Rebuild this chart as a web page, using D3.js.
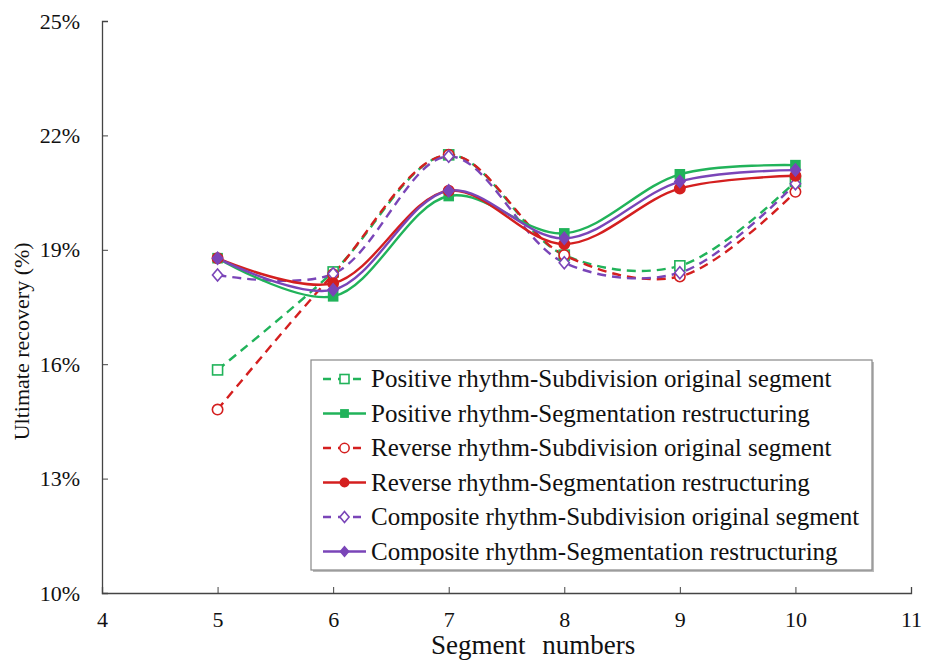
<!DOCTYPE html>
<html>
<head>
<meta charset="utf-8">
<script src="https://cdn.jsdelivr.net/npm/d3@7"></script>
<style>
  body { margin: 0; background: #fff; }
  text { font-family: "Liberation Serif", "Times New Roman", serif; fill: #111; }
</style>
</head>
<body>
<svg id="chart" width="935" height="661"></svg>
<script>
// segment numbers on the x axis
const segments = [5, 6, 7, 8, 9, 10];

// ultimate recovery (%)
const posSubdivision   = [15.85, 18.42, 21.49, 18.86, 18.58, 20.79];
const posSegmentation  = [18.78, 17.78, 20.41, 19.43, 20.98, 21.22];
const revSubdivision   = [14.81, 18.36, 21.49, 18.86, 18.30, 20.52];
const revSegmentation  = [18.78, 18.12, 20.55, 19.15, 20.61, 20.94];
const compSubdivision  = [18.34, 18.37, 21.45, 18.66, 18.40, 20.73];
const compSegmentation = [18.78, 17.95, 20.55, 19.30, 20.79, 21.09];

const seriesNames = [
  'Positive rhythm-Subdivision original segment',
  'Positive rhythm-Segmentation restructuring',
  'Reverse rhythm-Subdivision original segment',
  'Reverse rhythm-Segmentation restructuring',
  'Composite rhythm-Subdivision original segment',
  'Composite rhythm-Segmentation restructuring'
];

const xTicks = [4, 5, 6, 7, 8, 9, 10, 11];
const yTicks = [10, 13, 16, 19, 22, 25];

const green = '#21b35a', red = '#d41f1f', purple = '#7a45b8';

const series = [
  {name: seriesNames[0], values: posSubdivision,   color: green,  dashed: true,  shape: 'square'},
  {name: seriesNames[1], values: posSegmentation,  color: green,  dashed: false, shape: 'square'},
  {name: seriesNames[2], values: revSubdivision,   color: red,    dashed: true,  shape: 'circle'},
  {name: seriesNames[3], values: revSegmentation,  color: red,    dashed: false, shape: 'circle'},
  {name: seriesNames[4], values: compSubdivision,  color: purple, dashed: true,  shape: 'diamond'},
  {name: seriesNames[5], values: compSegmentation, color: purple, dashed: false, shape: 'diamond'}
];

const margin = {top: 21, right: 24, bottom: 68, left: 102};
const svg = d3.select('#chart');
const width = 935 - margin.left - margin.right;
const height = 661 - margin.top - margin.bottom;

const g = svg.append('g')
  .attr('transform', 'translate(' + margin.left + ',' + margin.top + ')');

const x = d3.scaleLinear().domain([4, 11]).range([0, width]);
const y = d3.scaleLinear().domain([10, 25]).range([height, 0]);

// axes, ticks pointing inwards
const xAxis = g.append('g')
  .attr('transform', 'translate(0,' + height + ')')
  .call(d3.axisBottom(x).tickValues(xTicks).tickSizeInner(-6).tickSizeOuter(-6).tickPadding(18)
    .tickFormat(d3.format('d')));
const yAxis = g.append('g')
  .call(d3.axisLeft(y).tickValues(yTicks).tickSizeInner(-6).tickSizeOuter(-6).tickPadding(22)
    .tickFormat(d => d + '%'));

[xAxis, yAxis].forEach(a => {
  a.select('.domain').attr('stroke', '#444').attr('stroke-width', 1.3);
  a.selectAll('.tick line').attr('stroke', '#444').attr('stroke-width', 1);
  a.selectAll('.tick text').attr('fill', '#111')
    .style('font-family', '"Liberation Serif", serif').style('font-size', '22px');
});

// axis titles
svg.append('text')
  .attr('x', margin.left + x(7.73))
  .attr('y', 654)
  .attr('text-anchor', 'middle')
  .style('font-size', '27px')
  .style('word-spacing', '10px')
  .text('Segment numbers');

svg.append('text')
  .attr('transform', 'translate(29,' + (margin.top + y(16.6)) + ') rotate(-90)')
  .attr('text-anchor', 'middle')
  .style('font-size', '22px')
  .text('Ultimate recovery (%)');

const line = d3.line()
  .x((d, i) => x(segments[i]))
  .y(d => y(d))
  .curve(d3.curveCatmullRom.alpha(0.5));

function drawMarker(sel, s, cx, cy, scale) {
  const k = scale || 1;
  if (s.shape === 'square') {
    const h = (s.dashed ? 5 : 4.5) * k;
    sel.append('rect')
      .attr('x', cx - h).attr('y', cy - h)
      .attr('width', 2 * h).attr('height', 2 * h)
      .attr('fill', s.dashed ? '#fff' : s.color)
      .attr('stroke', s.color).attr('stroke-width', 1.6);
  } else if (s.shape === 'circle') {
    sel.append('circle')
      .attr('cx', cx).attr('cy', cy).attr('r', 5.2 * k)
      .attr('fill', s.dashed ? '#fff' : s.color)
      .attr('stroke', s.color).attr('stroke-width', 1.6);
  } else {
    const r = 6 * k;
    sel.append('path')
      .attr('d', 'M' + cx + ',' + (cy - r) + 'L' + (cx + r * 0.85) + ',' + cy +
        'L' + cx + ',' + (cy + r) + 'L' + (cx - r * 0.85) + ',' + cy + 'Z')
      .attr('fill', s.dashed ? '#fff' : s.color)
      .attr('stroke', s.color).attr('stroke-width', 1.6);
  }
}

// draw dashed series first, solid on top
const order = [0, 2, 4, 1, 3, 5];
order.forEach(idx => {
  const s = series[idx];
  g.append('path')
    .datum(s.values)
    .attr('d', line)
    .attr('fill', 'none')
    .attr('stroke', s.color)
    .attr('stroke-width', 2.4)
    .attr('stroke-dasharray', s.dashed ? '9,6' : null);
});
order.forEach(idx => {
  const s = series[idx];
  s.values.forEach((v, i) => drawMarker(g, s, x(segments[i]), y(v)));
});

// legend
const legend = svg.append('g')
  .attr('transform', 'translate(311,360)');
const legendWidth = 561, legendHeight = 210;
legend.append('rect')
  .attr('x', 2).attr('y', 2)
  .attr('width', legendWidth).attr('height', legendHeight)
  .attr('fill', '#bbb');
legend.append('rect')
  .attr('width', legendWidth)
  .attr('height', legendHeight)
  .attr('fill', '#fff')
  .attr('stroke', '#888')
  .attr('stroke-width', 1.2);

series.forEach((s, i) => {
  const ly = 19 + i * 34.5;
  legend.append('line')
    .attr('x1', 12).attr('x2', 55)
    .attr('y1', ly).attr('y2', ly)
    .attr('stroke', s.color).attr('stroke-width', 2.4)
    .attr('stroke-dasharray', s.dashed ? '8,7' : null);
  drawMarker(legend, s, 33.5, ly, s.dashed ? 0.9 : 0.8);
  legend.append('text')
    .attr('x', 60).attr('y', ly + 8)
    .style('font-size', '25px')
    .text(s.name);
});
</script>
</body>
</html>
